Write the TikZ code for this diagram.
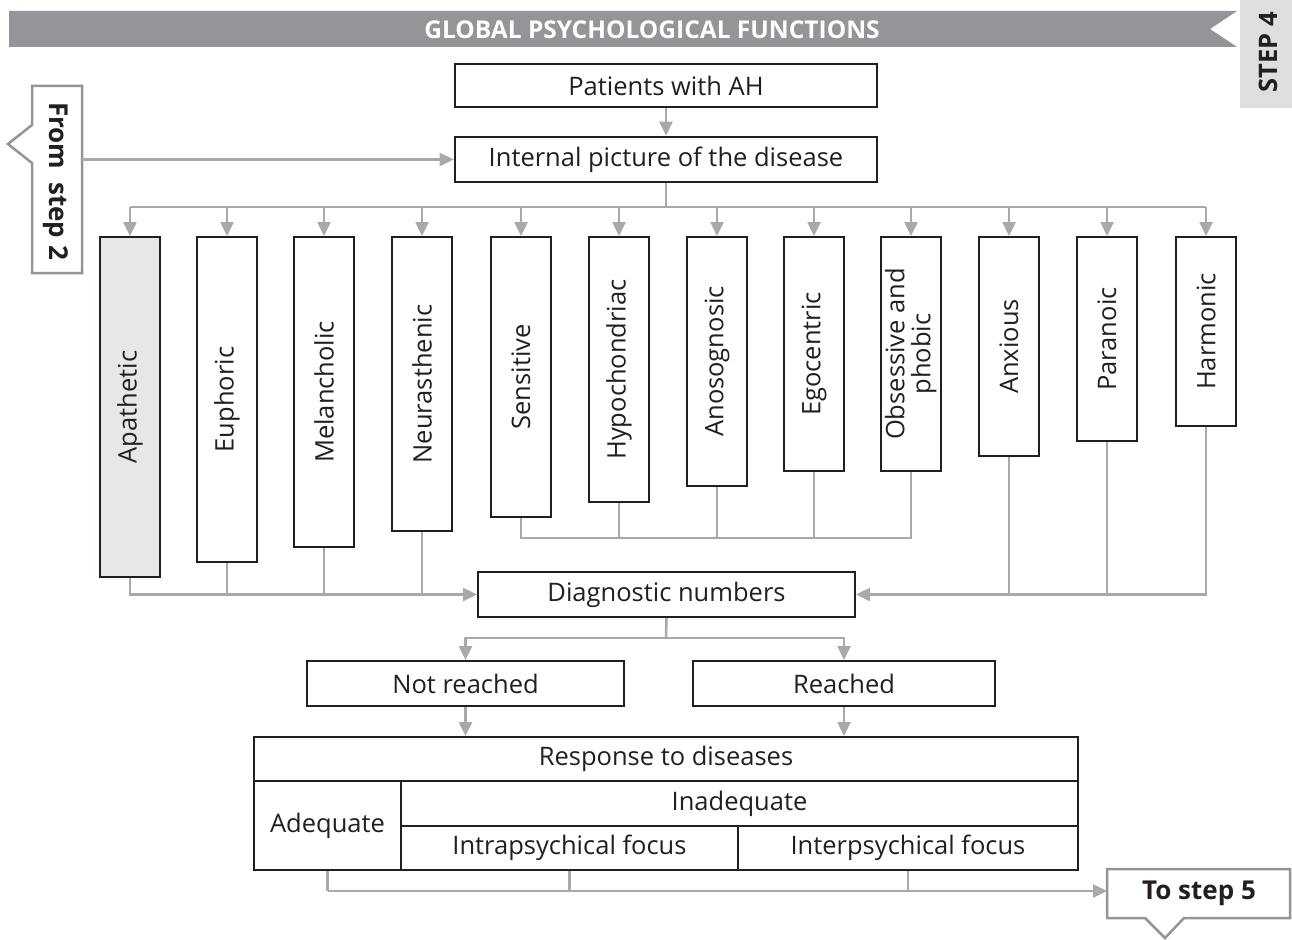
\documentclass[tikz,border=0pt]{standalone}
\usepackage{fontspec}
\setmainfont{Open Sans}
\usetikzlibrary{arrows.meta}
\definecolor{ink}{HTML}{231F20}
\definecolor{conn}{HTML}{A7A9AC}
\definecolor{band}{HTML}{939598}
\definecolor{shade}{HTML}{E6E7E8}
\definecolor{tabfill}{HTML}{DDDEDF}
\newcommand{\mainsize}{\fontsize{25.5}{28}\selectfont}
\tikzset{
  conline/.style={draw=conn, line width=2.5pt},
  arr/.style={conline, -{Triangle[length=14pt,width=13pt]}},
  hbox/.style={draw=ink, line width=2pt, fill=white, inner sep=0pt, text=ink,
    font=\mainsize},
  vbox/.style={hbox, minimum width=60pt, anchor=north},
  cell/.style={draw=ink, line width=2pt, inner sep=0pt, text=ink,
    font=\mainsize},
  calloutline/.style={draw=band, line width=2.5pt, fill=white},
  boldtxt/.style={text=ink, font=\bfseries\fontsize{26}{28}\selectfont, inner sep=0pt}
}
\begin{document}
\begin{tikzpicture}[x=1pt,y=-1pt]
\useasboundingbox (0,0) rectangle (1292,939);

% title band and step tab
\fill[band] (9,11) -- (1237,11) -- (1210,29) -- (1237,47) -- (9,47) -- cycle;
\node[text=white, font=\bfseries\fontsize{24.5}{26}\selectfont, inner sep=0pt] (title) at (652,29.5) {GLOBAL PSYCHOLOGICAL FUNCTIONS};
\fill[tabfill] (1240,0) rectangle (1292,108);
\node[boldtxt, rotate=90, font=\bfseries\fontsize{25.5}{26}\selectfont] (step4) at (1268,52) {STEP 4};

% top boxes
\node[hbox, minimum width=422pt, minimum height=43pt] (pat) at (666,85.5) {Patients with AH};
\node[hbox, line width=2.6pt, minimum width=422pt, minimum height=45pt] (ipd) at (666,159.5) {Internal picture of the disease};
\draw[arr] (pat.south) -- (ipd.north);

% incoming callout
\draw[calloutline] (82,86) -- (82,273) -- (32,273) -- (32,163) -- (8,144) -- (32,125) -- (32,86) -- cycle;
\node[boldtxt, rotate=-90] (from2) at (56,181) {From\hspace{0.5em}step 2};
\coordinate (from2e) at (82,181);
\draw[arr] (from2e |- ipd.west) -- (ipd.west);

% types of the internal picture
\node[vbox, fill=shade, minimum height=340pt] (b1) at (130,236) {\rotatebox{90}{Apathetic}};
\node[vbox, minimum height=325pt] (b2) at (227,236) {\rotatebox{90}{Euphoric}};
\node[vbox, minimum height=310pt] (b3) at (324,236) {\rotatebox{90}{Melancholic}};
\node[vbox, minimum height=294pt] (b4) at (422,236) {\rotatebox{90}{Neurasthenic}};
\node[vbox, minimum height=280pt] (b5) at (521,236) {\rotatebox{90}{Sensitive}};
\node[vbox, minimum height=265pt] (b6) at (619,236) {\rotatebox{90}{Hypochondriac}};
\node[vbox, minimum height=249pt] (b7) at (717,236) {\rotatebox{90}{Anosognosic}};
\node[vbox, minimum height=234pt] (b8) at (814,236) {\rotatebox{90}{Egocentric}};
\node[vbox, minimum height=234pt] (b9) at (911,236) {\rotatebox{90}{\fontsize{25.5}{22}\selectfont\begin{tabular}{@{}c@{}}Obsessive and\\phobic\end{tabular}}};
\node[vbox, minimum height=219pt] (b10) at (1009,236) {\rotatebox{90}{Anxious}};
\node[vbox, minimum height=204pt] (b11) at (1107,236) {\rotatebox{90}{Paranoic}};
\node[vbox, minimum height=189pt] (b12) at (1206,236) {\rotatebox{90}{Harmonic}};

% distribution bus
\coordinate (bus) at (666,207);
\draw[conline] (ipd.south) -- (bus);
\draw[conline] (b1.north |- bus) -- (b12.north |- bus);
\foreach \i in {1,...,12} {
  \draw[arr] (b\i.north |- bus) -- (b\i.north);
}

% diagnostic numbers and the collecting lines
\node[hbox, minimum width=377pt, minimum height=45pt] (diag) at (666.5,594.5) {Diagnostic numbers};
\draw[arr] (b1.south) |- (diag.west);
\foreach \i in {2,3,4} { \draw[conline] (b\i.south) -- (b\i.south |- diag.west); }
\draw[arr] (b12.south) |- (diag.east);
\foreach \i in {10,11} { \draw[conline] (b\i.south) -- (b\i.south |- diag.east); }
\coordinate (brk) at (0,538);
\draw[conline] (b5.south) -- (b5.south |- brk) -- (b9.south |- brk) -- (b9.south);
\foreach \i in {6,7,8} { \draw[conline] (b\i.south) -- (b\i.south |- brk); }

% outcome boxes
\node[hbox, minimum width=317pt, minimum height=45pt] (notr) at (465.5,683.5) {Not reached};
\node[hbox, minimum width=302pt, minimum height=45pt] (reach) at (844,683.5) {Reached};
\coordinate (split) at (666,638);
\draw[conline] (diag.south) -- (split);
\draw[arr] (split) -| (notr.north);
\draw[arr] (split) -| (reach.north);

% response table
\node[cell, minimum width=824pt, minimum height=44pt] (resp) at (666,759) {Response to diseases};
\node[cell, minimum width=147pt, minimum height=89pt] (adq) at (327.5,825.5) {Adequate};
\node[cell, minimum width=677pt, minimum height=45pt] (inad) at (739.5,803.5) {Inadequate};
\node[cell, minimum width=337pt, minimum height=44pt] (intra) at (569.5,848) {Intrapsychical focus};
\node[cell, minimum width=340pt, minimum height=44pt] (inter) at (908,848) {Interpsychical focus};
\draw[arr] (notr.south) -- (notr.south |- resp.north);
\draw[arr] (reach.south) -- (reach.south |- resp.north);

% outgoing callout
\draw[calloutline] (1107,869) -- (1290,869) -- (1290,918) -- (1184,918) -- (1165,938) -- (1145,918) -- (1107,918) -- cycle;
\node[boldtxt] (to5) at (1199,893) {To step 5};
\coordinate (to5w) at (1107,891);
\draw[conline] (adq.south) -- (adq.south |- to5w);
\draw[conline] (intra.south) -- (intra.south |- to5w);
\draw[conline] (inter.south) -- (inter.south |- to5w);
\draw[arr] (adq.south |- to5w) -- (to5w);
\end{tikzpicture}
\end{document}
